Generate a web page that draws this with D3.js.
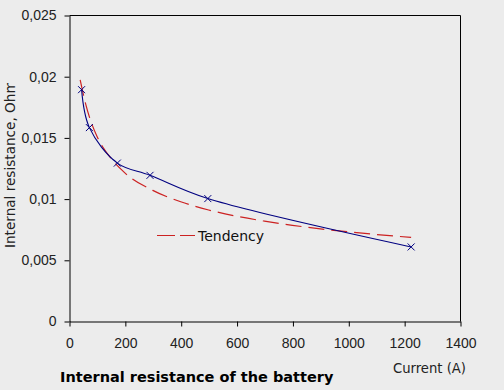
<!DOCTYPE html>
<html><head><meta charset="utf-8">
<script src="https://cdn.jsdelivr.net/npm/d3@7"></script>
<style>
html,body{margin:0;padding:0;background:#ececec;}
svg{display:block;}
</style></head>
<body>
<svg id="chart" width="504" height="390"></svg>
<script>
// Measured data (current in A, internal resistance in Ohm)
const currents = [45, 73, 173, 290, 497, 1225];
const resistances = [0.0189, 0.0158, 0.0129, 0.0119, 0.0100, 0.00605];
// Tendency line
const trendCurrents = [40, 60, 80, 100, 150, 200, 300, 400, 500, 600, 700, 800, 900, 1000, 1100, 1225];
const trendValues = [0.0197, 0.0177, 0.0162, 0.0151, 0.0133, 0.0121, 0.01067, 0.00974, 0.00907, 0.00856, 0.00816, 0.00782, 0.00753, 0.00729, 0.00707, 0.00683];
const xTicks = [0, 200, 400, 600, 800, 1000, 1200, 1400];
const yTicks = [0, 0.005, 0.01, 0.015, 0.02, 0.025];
const yTickLabels = ["0", "0,005", "0,01", "0,015", "0,02", "0,025"];

const svg = d3.select("#chart");
const L = 69, R = 460, T = 15, B = 321;
const x = d3.scaleLinear().domain([0, 1400]).range([L, R]);
const y = d3.scaleLinear().domain([0, 0.025]).range([B, T]);

svg.append("rect").attr("width", 504).attr("height", 390).attr("fill", "#ececec");

// frame
svg.append("path")
  .attr("d", `M${L+0.5},${T+0.5}H${R+0.5}V${B+0.5}`)
  .attr("fill", "none").attr("stroke", "#000").attr("stroke-width", 1);

const xAxis = svg.append("g").attr("transform", `translate(0.5,${B+0.5})`)
  .call(d3.axisBottom(x).tickValues(xTicks).tickSize(5).tickSizeOuter(0).tickPadding(12).tickFormat(d3.format("d")));
const yAxis = svg.append("g").attr("transform", `translate(${L+0.5},0.5)`)
  .call(d3.axisLeft(y).tickValues(yTicks).tickSize(5).tickSizeOuter(0).tickPadding(8).tickFormat(d => yTickLabels[yTicks.indexOf(d)]));
[xAxis, yAxis].forEach(g => {
  g.selectAll("path.domain").attr("stroke", "#000");
  g.selectAll(".tick line").attr("stroke", "#000");
  g.selectAll("text").attr("font-family", "Liberation Sans, Arial, sans-serif").attr("font-size", "14px").attr("fill", "#222");
});

// tendency line
const trend = trendCurrents.map((c, i) => [c, trendValues[i]]);
svg.append("path").datum(trend)
  .attr("fill", "none").attr("stroke", "#cc2222").attr("stroke-width", 1.2)
  .attr("stroke-dasharray", "16,7")
  .attr("d", d3.line().x(d => x(d[0])).y(d => y(d[1])).curve(d3.curveMonotoneX));

// data line
const pts = currents.map((c, i) => [c, resistances[i]]);
svg.append("path").datum(pts)
  .attr("fill", "none").attr("stroke", "#000080").attr("stroke-width", 1.1)
  .attr("d", d3.line().x(d => x(d[0])).y(d => y(d[1])).curve(d3.curveCatmullRom.alpha(0.5)));

svg.append("g").selectAll("path").data(pts).join("path")
  .attr("d", d => { const cx = x(d[0]), cy = y(d[1]), s = 3.5; return `M${cx-s},${cy-s}L${cx+s},${cy+s}M${cx-s},${cy+s}L${cx+s},${cy-s}`; })
  .attr("stroke", "#000080").attr("stroke-width", 1);

// legend
svg.append("line").attr("x1", 157).attr("x2", 195).attr("y1", 235.5).attr("y2", 235.5)
  .attr("stroke", "#cc2222").attr("stroke-width", 1.2).attr("stroke-dasharray", "18,5");
svg.append("text").attr("x", 198).attr("y", 241).text("Tendency")
  .attr("font-family", "DejaVu Sans, Verdana, sans-serif").attr("font-size", "14px").attr("fill", "#111");

// axis titles
svg.append("text").attr("x", 466).attr("y", 373).attr("text-anchor", "end").text("Current (A)")
  .attr("font-family", "DejaVu Sans, Verdana, sans-serif").attr("font-size", "13.2px").attr("fill", "#222");

svg.append("defs").append("clipPath").attr("id", "yclip")
  .append("rect").attr("x", 0).attr("y", 83).attr("width", 30).attr("height", 200);
svg.append("g").attr("clip-path", "url(#yclip)")
  .append("text")
  .attr("transform", "translate(15,248) rotate(-90)")
  .text("Internal resistance, Ohm")
  .attr("font-family", "DejaVu Sans, Verdana, sans-serif").attr("font-size", "13.6px").attr("fill", "#222");

svg.append("text").attr("x", 60).attr("y", 382).text("Internal resistance of the battery")
  .attr("font-family", "DejaVu Sans, Verdana, sans-serif").attr("font-weight", "bold").attr("font-size", "14.5px").attr("fill", "#000");
</script>
</body></html>
